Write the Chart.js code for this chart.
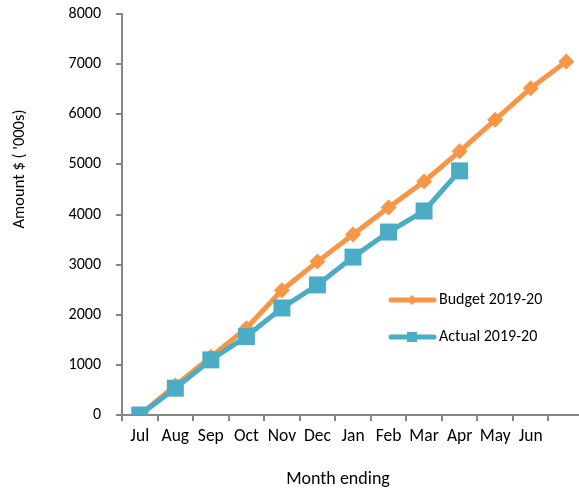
<!DOCTYPE html>
<html>
<head>
<meta charset="utf-8">
<script src="https://cdn.jsdelivr.net/npm/chart.js@4"></script>
<style>
  html, body { margin: 0; padding: 0; background: #fff; overflow: hidden; }
  #wrap { width: 596px; height: 491px; }
</style>
</head>
<body>
<div id="wrap"><canvas id="budgetChart" width="596" height="491"></canvas></div>
<script>
// Data
const months = ['Jul', 'Aug', 'Sep', 'Oct', 'Nov', 'Dec', 'Jan', 'Feb', 'Mar', 'Apr', 'May', 'Jun', ''];
const budget = [0, 590, 1160, 1730, 2490, 3060, 3600, 4140, 4660, 5260, 5890, 6520, 7050];
const actual = [0, 535, 1100, 1565, 2135, 2595, 3150, 3650, 4070, 4870, null, null, null];
const yTicks = [0, 1000, 2000, 3000, 4000, 5000, 6000, 7000, 8000];

const ORANGE = '#F79646';
const BLUE = '#4BACC6';
const AXIS = '#868686';
const FONT = 'Carlito, Lato, sans-serif';

// Axis titles and the legend sit where Excel put them, not centred
const extrasPlugin = {
    id: 'extras',
    afterDraw(chart) {
        const ctx = chart.ctx;
        ctx.save();
        ctx.fillStyle = '#000';
        ctx.textAlign = 'center';
        ctx.textBaseline = 'middle';

        ctx.font = '18px ' + FONT;
        ctx.fillText('Month ending', 338, 479);

        ctx.save();
        ctx.font = '16.5px ' + FONT;
        ctx.translate(20, 169);
        ctx.rotate(-Math.PI / 2);
        ctx.fillText("Amount $ ( '000s)", 0, 0);
        ctx.restore();

        const items = [
            { label: 'Budget 2019-20', color: ORANGE, y: 300, shape: 'diamond' },
            { label: 'Actual 2019-20', color: BLUE, y: 337, shape: 'square' }
        ];
        items.forEach(it => {
            ctx.strokeStyle = it.color;
            ctx.lineWidth = 5;
            ctx.lineCap = 'round';
            ctx.beginPath();
            ctx.moveTo(391, it.y);
            ctx.lineTo(434, it.y);
            ctx.stroke();
            ctx.fillStyle = it.color;
            ctx.beginPath();
            if (it.shape === 'diamond') {
                ctx.moveTo(412, it.y - 5);
                ctx.lineTo(417, it.y);
                ctx.lineTo(412, it.y + 5);
                ctx.lineTo(407, it.y);
                ctx.closePath();
            } else {
                ctx.rect(407, it.y - 5, 10, 10);
            }
            ctx.fill();
            ctx.fillStyle = '#000';
            ctx.textAlign = 'left';
            ctx.font = '16px ' + FONT;
            ctx.fillText(it.label, 439, it.y);
        });
        ctx.restore();
    }
};

const ctx = document.getElementById('budgetChart').getContext('2d');
new Chart(ctx, {
    type: 'line',
    data: {
        labels: months,
        datasets: [
            {
                label: 'Actual 2019-20',
                data: actual,
                borderColor: BLUE,
                backgroundColor: BLUE,
                borderWidth: 5,
                pointStyle: 'rect',
                pointRadius: 12,
                pointBorderWidth: 0,
                order: 0,
                tension: 0
            },
            {
                label: 'Budget 2019-20',
                data: budget,
                borderColor: ORANGE,
                backgroundColor: ORANGE,
                borderWidth: 5,
                pointStyle: 'rectRot',
                pointRadius: 8,
                pointBorderWidth: 0,
                order: 1,
                tension: 0
            }
        ]
    },
    options: {
        responsive: false,
        animation: false,
        layout: { padding: { top: 14, right: 2, left: 0, bottom: 0 } },
        plugins: {
            legend: { display: false },
            tooltip: { enabled: false }
        },
        scales: {
            x: {
                offset: true,
                grid: {
                    offset: true,
                    drawOnChartArea: false,
                    color: AXIS,
                    lineWidth: 2,
                    tickLength: 6
                },
                border: { color: AXIS, width: 2 },
                ticks: {
                    color: '#000',
                    font: { family: FONT, size: 17.5 },
                    padding: 5,
                    maxRotation: 0,
                    autoSkip: false
                },
                afterFit(scale) { scale.height = 76; }
            },
            y: {
                min: 0,
                max: 8000,
                afterBuildTicks(scale) { scale.ticks = yTicks.map(v => ({ value: v })); },
                grid: {
                    drawOnChartArea: false,
                    color: AXIS,
                    lineWidth: 2,
                    tickLength: 6
                },
                border: { color: AXIS, width: 2 },
                ticks: {
                    color: '#000',
                    font: { family: FONT, size: 16 },
                    padding: 15,
                    callback: v => String(v)
                },
                afterFit(scale) {
                    scale.width = 122;
                    scale.paddingTop = 0;
                    scale.paddingBottom = 0;
                }
            }
        }
    },
    plugins: [extrasPlugin]
});
</script>
</body>
</html>
